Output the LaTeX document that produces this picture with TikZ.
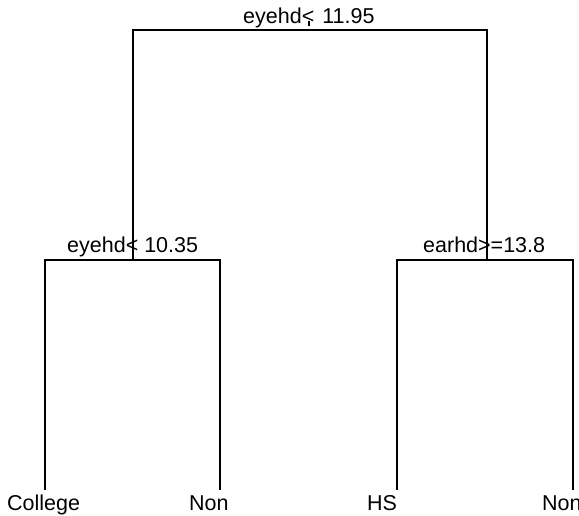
\documentclass[tikz,border=0pt]{standalone}
\usepackage{fontspec}
\setmainfont{Liberation Sans}
\begin{document}
\begin{tikzpicture}[x=1pt,y=-1pt,
  branch/.style={line width=1.4pt,black},
  lbl/.style={anchor=base west,inner sep=0pt,font=\fontsize{21.5}{25}\selectfont}]
\useasboundingbox (0,0) rectangle (579,516);
% tree positions
\coordinate (root) at (309,30);
\coordinate (rootstem) at (309,21);
\coordinate (L) at (133,260);
\coordinate (R) at (487,260);
\coordinate (LL) at (45,490);
\coordinate (LR) at (220,490);
\coordinate (RL) at (397,490);
\coordinate (RR) at (573,490);
% labels
\node[lbl] (s0) at (243,24) {eyehd<\hspace{2pt} 11.95};
\node[lbl] (s1) at (67,253) {eyehd< 10.35};
\node[lbl] (s2) at (423,253) {earhd>=13.8};
\node[lbl] (t1) at (7,510) {College};
\node[lbl] (t2) at (189,510) {Non};
\node[lbl] (t3) at (367,510) {HS};
\node[lbl] (t4) at (542,510) {Non};
% branches
\draw[branch] (rootstem) -- ([yshift=4pt]root);
\draw[branch] (L) -- (L |- root) -- (R |- root) -- (R);
\draw[branch] (LL) -- (LL |- L) -- (LR |- L) -- (LR);
\draw[branch] (RL) -- (RL |- R) -- (RR |- R) -- (RR);
\end{tikzpicture}
\end{document}
